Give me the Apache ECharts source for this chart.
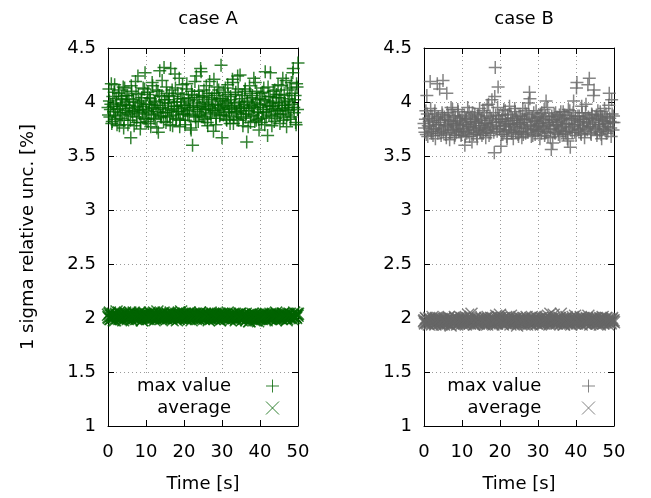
<!DOCTYPE html>
<html>
<head>
<meta charset="utf-8">
<script src="https://cdn.jsdelivr.net/npm/echarts@6/dist/echarts.min.js"></script>
<style>html,body{margin:0;padding:0;background:#fff}#c{width:651px;height:498px}</style>
</head>
<body>
<div id="c"></div>
<script>
const titles = ['case A', 'case B'];
const xTicks = [0, 10, 20, 30, 40, 50];
const yTicks = [1, 1.5, 2, 2.5, 3, 3.5, 4, 4.5];
const legendNames = ['max value', 'average'];
const times = [
0,0.25,0.5,0.75,1,1.25,1.5,1.75,2,2.25,2.5,2.75,3,3.25,3.5,3.75,4,4.25,4.5,4.75,
5,5.25,5.5,5.75,6,6.25,6.5,6.75,7,7.25,7.5,7.75,8,8.25,8.5,8.75,9,9.25,9.5,9.75,
10,10.25,10.5,10.75,11,11.25,11.5,11.75,12,12.25,12.5,12.75,13,13.25,13.5,13.75,14,14.25,14.5,14.75,
15,15.25,15.5,15.75,16,16.25,16.5,16.75,17,17.25,17.5,17.75,18,18.25,18.5,18.75,19,19.25,19.5,19.75,
20,20.25,20.5,20.75,21,21.25,21.5,21.75,22,22.25,22.5,22.75,23,23.25,23.5,23.75,24,24.25,24.5,24.75,
25,25.25,25.5,25.75,26,26.25,26.5,26.75,27,27.25,27.5,27.75,28,28.25,28.5,28.75,29,29.25,29.5,29.75,
30,30.25,30.5,30.75,31,31.25,31.5,31.75,32,32.25,32.5,32.75,33,33.25,33.5,33.75,34,34.25,34.5,34.75,
35,35.25,35.5,35.75,36,36.25,36.5,36.75,37,37.25,37.5,37.75,38,38.25,38.5,38.75,39,39.25,39.5,39.75,
40,40.25,40.5,40.75,41,41.25,41.5,41.75,42,42.25,42.5,42.75,43,43.25,43.5,43.75,44,44.25,44.5,44.75,
45,45.25,45.5,45.75,46,46.25,46.5,46.75,47,47.25,47.5,47.75,48,48.25,48.5,48.75,49,49.25,49.5,49.75,
50];
const times2 = [
0.125,0.375,0.625,0.875,1.125,1.375,1.625,1.875,2.125,2.375,2.625,2.875,3.125,3.375,3.625,3.875,4.125,4.375,4.625,4.875,
5.125,5.375,5.625,5.875,6.125,6.375,6.625,6.875,7.125,7.375,7.625,7.875,8.125,8.375,8.625,8.875,9.125,9.375,9.625,9.875,
10.125,10.375,10.625,10.875,11.125,11.375,11.625,11.875,12.125,12.375,12.625,12.875,13.125,13.375,13.625,13.875,14.125,14.375,14.625,14.875,
15.125,15.375,15.625,15.875,16.125,16.375,16.625,16.875,17.125,17.375,17.625,17.875,18.125,18.375,18.625,18.875,19.125,19.375,19.625,19.875,
20.125,20.375,20.625,20.875,21.125,21.375,21.625,21.875,22.125,22.375,22.625,22.875,23.125,23.375,23.625,23.875,24.125,24.375,24.625,24.875,
25.125,25.375,25.625,25.875,26.125,26.375,26.625,26.875,27.125,27.375,27.625,27.875,28.125,28.375,28.625,28.875,29.125,29.375,29.625,29.875,
30.125,30.375,30.625,30.875,31.125,31.375,31.625,31.875,32.125,32.375,32.625,32.875,33.125,33.375,33.625,33.875,34.125,34.375,34.625,34.875,
35.125,35.375,35.625,35.875,36.125,36.375,36.625,36.875,37.125,37.375,37.625,37.875,38.125,38.375,38.625,38.875,39.125,39.375,39.625,39.875,
40.125,40.375,40.625,40.875,41.125,41.375,41.625,41.875,42.125,42.375,42.625,42.875,43.125,43.375,43.625,43.875,44.125,44.375,44.625,44.875,
45.125,45.375,45.625,45.875,46.125,46.375,46.625,46.875,47.125,47.375,47.625,47.875,48.125,48.375,48.625,48.875,49.125,49.375,49.625,49.875];
const maxA = [
3.95,4.12,3.86,3.98,3.80,4.05,3.91,4.16,3.84,3.99,3.93,4.08,3.78,3.96,4.02,3.88,4.14,3.83,3.97,4.06,
3.90,3.79,4.03,3.94,3.67,4.10,3.87,4.00,3.92,4.19,3.81,3.96,4.07,3.89,3.75,4.01,3.93,4.13,3.85,4.27,
3.98,3.82,4.09,3.91,4.04,3.77,3.95,4.15,3.88,4.00,3.84,4.11,3.93,3.72,4.06,3.97,3.86,4.20,3.90,4.32,
3.99,3.81,4.08,3.94,4.02,3.87,4.31,3.92,3.78,4.05,3.96,4.13,3.85,4.00,3.91,4.22,3.83,3.97,4.07,3.89,
4.03,3.79,3.95,4.17,3.88,4.01,3.93,3.76,4.10,3.60,3.97,4.06,3.86,4.24,3.91,3.82,4.04,3.95,4.28,3.87,
3.99,4.11,3.84,3.93,4.06,3.78,3.96,4.19,3.89,4.02,3.92,3.73,4.08,3.98,3.85,4.14,3.94,4.03,3.88,4.34,
3.67,3.97,4.09,3.90,4.01,3.83,4.16,3.95,3.87,4.05,3.93,4.21,3.80,3.99,4.07,3.91,3.84,4.12,3.96,4.25,
3.89,4.03,3.78,3.94,4.10,3.86,3.63,4.00,3.92,4.15,3.81,3.97,4.06,3.88,3.95,4.18,3.83,4.02,3.90,3.74,
3.98,4.08,3.85,3.93,4.13,3.79,4.01,3.91,3.69,4.05,3.96,4.27,3.87,3.99,4.10,3.82,3.94,4.04,3.89,4.16,
3.92,3.80,4.07,3.97,4.22,3.86,4.00,3.93,3.77,4.11,3.95,4.03,3.84,4.18,3.98,4.31,3.90,4.06,3.79,4.14,
4.36];
const maxA2 = [
3.88,4.01,3.93,4.17,3.82,3.96,4.09,3.87,4.03,3.79,3.94,4.11,3.90,3.85,4.05,3.98,3.76,4.13,3.92,4.00,
4.06,3.89,3.97,3.83,4.15,3.91,4.02,3.78,3.95,4.08,3.86,4.24,3.93,3.99,3.81,4.04,3.90,3.96,4.12,3.84,
3.92,4.07,3.80,3.98,4.03,3.89,4.18,3.94,3.85,4.01,3.97,3.76,4.10,3.91,4.29,3.87,4.05,3.95,3.82,4.02,
3.90,4.14,3.86,3.99,4.06,3.79,3.93,4.11,3.88,4.00,4.26,3.84,3.96,4.08,3.91,3.77,4.03,3.94,4.16,3.89,
3.97,3.83,4.12,3.92,4.04,3.87,3.99,3.74,4.07,3.95,3.89,4.19,3.82,4.02,3.96,4.10,3.88,4.31,3.93,4.05,
3.86,4.00,3.94,4.15,3.81,3.98,4.08,3.90,3.85,4.04,3.97,4.21,3.92,3.79,4.06,3.95,4.11,3.87,4.01,3.93,
4.03,3.88,3.96,4.13,3.84,3.99,4.07,3.91,3.80,4.02,3.94,4.18,3.86,3.97,4.09,3.90,4.24,3.83,4.00,3.95,
3.92,4.06,3.85,3.98,4.12,3.89,4.01,3.77,3.94,4.08,3.87,4.04,3.96,4.22,3.82,3.99,4.10,3.91,3.84,4.03,
3.95,3.81,4.09,3.90,4.02,4.28,3.86,3.97,4.14,3.88,4.05,3.93,3.78,4.00,3.96,4.11,3.85,4.07,3.92,3.99,
4.04,3.89,4.15,3.94,3.83,4.06,3.97,4.20,3.88,4.01,3.92,4.13,3.86,4.08,4.27,3.95,4.02,3.81,4.17,3.93];
const avgA = [
2.03,2.00,2.05,1.99,2.02,2.04,1.98,2.01,2.03,2.06,2.00,2.02,1.99,2.04,2.01,2.03,1.98,2.02,2.05,2.00,
2.02,1.99,2.04,2.01,2.03,1.98,2.02,2.05,2.00,2.03,2.01,1.99,2.04,2.02,2.00,2.03,1.98,2.01,2.04,2.02,
2.00,2.03,2.01,1.99,2.05,2.02,2.00,2.04,2.01,1.98,2.03,2.02,2.06,2.00,2.01,2.03,1.99,2.04,2.02,2.00,
2.03,2.01,1.99,2.04,2.02,2.00,2.05,2.01,1.98,2.03,2.02,2.00,2.04,2.01,1.99,2.03,2.02,2.06,2.00,2.02,
2.01,2.04,1.99,2.02,2.03,2.00,2.05,2.01,1.98,2.03,2.02,2.00,2.04,2.01,2.03,1.99,2.02,2.05,2.00,2.03,
2.02,1.99,2.04,2.01,2.00,2.03,1.98,2.02,2.05,2.00,2.01,2.03,1.99,2.04,2.02,2.00,2.03,2.01,1.98,2.02,
2.04,2.00,2.02,2.03,1.99,2.01,2.05,2.00,2.02,1.98,2.03,2.01,2.04,2.00,2.02,1.99,2.03,2.01,2.00,2.04,
2.01,1.98,2.03,2.00,2.02,2.04,1.99,2.01,2.03,1.97,2.02,2.00,2.04,2.01,1.98,2.03,2.02,2.00,1.97,2.02,
2.00,2.03,1.99,2.01,2.04,2.00,2.02,1.98,2.03,2.01,2.00,2.04,1.99,2.02,2.03,2.00,2.01,2.05,1.99,2.02,
2.03,2.00,2.02,1.99,2.04,2.01,2.03,2.00,1.98,2.02,2.04,2.01,2.00,2.03,1.99,2.02,2.05,2.01,2.00,2.03,
2.04];
const avgA2 = [
2.01,2.04,1.99,2.02,2.00,2.03,2.01,1.98,2.04,2.02,2.00,2.05,2.01,1.99,2.03,2.02,2.00,2.04,2.01,2.03,
2.00,2.03,2.01,2.05,1.99,2.02,2.00,2.04,2.01,1.99,2.03,2.00,2.02,2.05,2.01,1.98,2.03,2.02,2.00,2.04,
2.02,1.99,2.03,2.01,2.00,2.04,2.02,2.00,2.05,2.01,1.99,2.03,2.00,2.02,2.04,2.01,2.03,2.00,2.05,2.01,
2.00,2.02,2.04,2.00,2.01,2.03,1.99,2.02,2.04,2.00,2.03,2.01,1.98,2.02,2.05,2.01,2.00,2.03,2.01,2.04,
2.03,2.00,2.02,2.04,2.01,1.99,2.03,2.02,2.00,2.04,2.01,2.03,1.99,2.02,2.00,2.04,2.01,2.02,2.03,2.00,
2.01,2.03,2.00,2.02,2.04,2.01,2.00,2.03,1.99,2.02,2.04,2.00,2.01,2.03,2.00,2.02,1.99,2.04,2.01,2.03,
2.02,2.00,2.04,2.01,2.03,2.00,2.02,1.99,2.04,2.01,2.02,2.00,2.03,2.01,1.98,2.03,2.02,2.00,2.04,2.01,
2.00,2.02,1.99,2.03,2.01,1.98,2.02,2.00,1.97,2.03,2.01,1.99,2.02,2.00,2.03,1.98,2.01,2.02,1.99,2.00,
2.02,2.00,2.03,2.01,1.99,2.02,2.04,2.00,2.01,2.03,1.99,2.02,2.00,2.04,2.01,2.02,1.98,2.03,2.01,2.00,
2.01,2.03,2.00,2.02,2.04,2.00,2.01,2.03,1.99,2.02,2.00,2.04,2.01,2.02,2.03,2.00,2.02,2.01,2.04,2.02];
const maxB = [
3.80,3.72,3.92,4.06,3.68,3.85,3.77,3.94,3.71,3.83,3.75,3.89,3.66,3.79,4.17,3.86,3.73,3.81,3.69,3.90,
4.20,3.76,3.84,3.70,4.08,3.78,3.88,3.65,3.82,3.74,3.93,3.79,3.67,3.86,3.72,3.80,3.91,3.75,3.83,3.69,
3.87,3.73,3.79,3.60,3.85,3.71,3.95,3.77,3.68,3.82,3.76,3.90,3.70,3.84,3.74,3.81,3.66,3.88,3.78,3.72,
3.83,3.69,3.92,3.76,3.80,3.67,3.86,3.74,3.98,3.79,3.71,3.85,3.77,3.90,3.53,4.32,3.81,3.73,4.14,3.87,
3.75,3.59,3.84,3.70,3.93,3.78,3.82,3.68,3.88,3.74,3.96,3.80,3.72,3.85,3.66,3.79,3.91,3.76,3.83,3.70,
3.87,3.73,3.81,3.67,3.94,3.77,3.84,3.71,3.89,3.75,3.99,4.09,3.79,3.68,3.86,3.74,3.82,3.70,3.92,3.78,
3.73,3.85,3.66,3.80,3.90,3.76,3.83,3.69,3.87,3.72,3.95,3.78,3.81,3.67,3.56,3.84,3.75,3.89,3.71,3.79,
3.86,3.74,3.82,3.68,3.91,3.77,3.84,3.70,3.88,3.73,3.80,3.66,3.93,3.76,3.58,3.85,3.72,3.90,3.79,3.83,
3.69,4.18,3.87,3.75,3.82,3.71,3.96,3.78,3.84,3.67,3.90,3.80,3.74,3.86,4.22,3.77,3.70,3.88,3.81,4.11,
3.76,3.85,3.69,3.92,3.79,3.73,3.87,3.66,3.83,3.75,3.94,3.80,3.71,3.86,3.77,4.08,3.82,3.68,3.89,3.74,
3.81];
const maxB2 = [
3.76,3.84,3.70,3.89,3.78,3.82,4.19,3.73,3.87,3.69,3.81,3.92,3.75,3.85,3.71,3.79,4.12,3.83,3.74,3.88,
3.72,3.86,3.79,3.67,3.90,3.77,3.83,3.71,3.95,3.80,3.74,3.87,3.69,3.82,3.76,3.93,3.73,3.85,3.78,3.70,
3.81,3.75,3.88,3.68,3.84,3.79,3.72,3.91,3.77,3.86,3.63,3.80,3.74,3.89,3.82,3.70,3.87,3.76,3.94,3.73,
3.85,3.78,3.71,3.90,3.80,3.74,3.97,3.83,3.69,3.87,3.76,4.02,3.81,3.72,4.05,3.88,3.78,3.95,3.84,3.75,
3.82,3.70,3.88,3.77,3.73,3.92,3.80,3.66,3.85,3.79,3.74,3.89,3.71,3.83,3.77,3.94,3.72,3.86,3.80,3.68,
3.79,3.87,3.73,3.84,3.70,3.81,3.92,3.76,3.85,3.72,3.88,4.03,3.78,3.83,3.69,3.90,3.75,3.82,3.77,3.86,
3.74,3.80,3.89,3.71,3.84,3.77,3.93,3.73,4.01,3.81,3.68,3.86,3.79,3.75,3.87,3.62,3.83,3.72,3.90,3.78,
3.81,3.70,3.88,3.76,3.83,3.73,3.91,3.79,3.85,3.71,3.87,3.64,3.80,3.92,3.74,3.84,3.77,4.01,3.72,3.86,
4.13,3.79,3.74,3.87,3.81,3.70,3.90,3.76,3.84,3.73,3.98,3.82,4.16,3.77,3.85,3.71,3.89,3.79,4.06,3.83,
3.75,3.88,3.72,3.84,3.79,3.91,3.70,3.86,3.77,3.82,3.74,3.89,3.80,3.73,3.97,3.85,3.76,4.02,3.81,3.87];
const avgB = [
1.97,1.95,2.00,1.96,1.98,1.94,1.99,1.97,1.95,2.01,1.96,1.98,1.94,1.99,1.97,2.00,1.95,1.98,1.96,1.99,
1.97,1.94,2.00,1.96,1.98,1.95,2.01,1.97,1.93,1.99,1.96,1.98,1.95,2.00,1.97,1.94,1.99,1.96,2.01,1.98,
1.95,1.97,2.00,1.96,1.94,1.99,1.97,1.98,1.95,2.01,2.04,1.96,1.98,1.94,2.00,1.97,1.95,1.99,1.96,1.98,
1.97,2.00,1.95,1.98,1.94,1.99,1.96,2.01,1.97,1.95,1.98,2.00,1.96,1.94,1.99,1.97,2.02,1.95,1.98,2.00,
2.03,1.96,1.98,1.94,2.00,1.97,1.95,1.99,1.96,2.01,1.97,1.94,1.98,2.00,1.95,1.97,1.99,1.96,1.93,1.98,
1.97,2.00,1.95,1.98,1.96,1.99,1.94,1.97,2.01,1.96,1.98,1.95,2.00,1.97,1.94,1.99,1.96,1.98,2.01,1.95,
1.97,1.99,1.96,1.94,2.00,1.97,1.95,1.98,2.01,1.96,1.99,1.97,1.94,2.04,1.98,1.95,2.00,1.96,1.98,1.97,
1.95,1.99,1.97,2.00,2.04,1.96,1.98,1.94,1.99,1.97,2.01,1.95,1.98,1.96,2.00,1.94,1.97,1.99,1.96,2.02,
1.97,1.95,1.99,1.96,1.98,2.01,1.94,1.97,2.00,1.96,1.98,1.95,1.99,2.02,1.97,1.94,1.98,2.00,1.96,1.99,
1.97,1.95,2.00,1.96,1.98,1.94,1.99,1.97,2.01,1.95,1.98,1.96,2.00,1.97,1.94,1.99,1.96,1.98,2.00,1.97,
1.96];
const avgB2 = [
1.98,1.96,1.99,1.95,1.97,2.00,1.96,1.98,1.94,1.99,1.97,1.95,2.00,1.96,1.98,1.95,1.99,1.97,1.94,1.98,
1.96,1.99,1.97,1.95,1.98,2.00,1.96,1.94,1.99,1.97,1.95,1.98,2.01,1.96,1.99,1.97,1.95,1.98,1.96,2.00,
1.97,1.99,1.95,1.98,1.96,2.00,2.03,1.97,1.95,1.99,1.96,1.98,1.94,2.00,1.97,1.96,1.99,1.95,1.98,1.97,
1.99,1.96,1.98,1.95,2.00,1.97,1.94,1.99,1.96,1.98,2.00,1.95,1.97,1.99,1.96,1.98,1.95,2.01,1.97,1.99,
2.00,1.97,1.95,1.99,1.96,1.98,2.01,1.95,1.97,1.99,1.96,2.02,1.98,1.95,1.99,1.97,1.96,2.00,1.98,1.95,
1.98,1.96,1.99,1.97,1.95,2.00,1.97,1.98,1.94,1.99,1.96,1.98,1.95,2.01,1.97,1.99,1.96,1.98,1.95,1.99,
1.96,1.98,2.00,1.97,1.95,1.99,1.97,2.00,1.96,1.98,2.02,1.97,1.95,1.99,1.97,1.96,2.03,1.98,1.95,1.99,
1.97,1.96,2.00,1.98,1.95,1.99,1.97,1.94,1.98,1.96,2.00,1.97,1.99,1.95,1.98,1.96,2.01,1.97,1.95,1.99,
1.98,1.96,1.99,1.97,1.95,2.00,1.97,1.99,1.96,1.98,1.95,2.00,1.97,1.96,1.99,1.98,1.95,1.97,2.00,1.96,
1.99,1.97,1.95,1.98,1.96,2.00,1.97,1.99,1.95,1.98,1.96,2.00,1.97,1.99,1.96,1.98,1.95,1.99,1.97,1.98];

const colors = ['#006400', '#666666'];
const FONT = 'DejaVu Sans';
const PLUS = 'path://M0,6.5L13,6.5M6.5,0L6.5,13';
const CROSS = 'path://M0,0L13,13M13,0L0,13';
const panels = [
  {left: 108, maxv: maxA, maxv2: maxA2, avgv: avgA, avgv2: avgA2},
  {left: 424, maxv: maxB, maxv2: maxB2, avgv: avgB, avgv2: avgB2}
];
const GW = 190, GT = 48, GH = 378;

const pairs = (ts, vals) => vals.map((v, i) => [ts[i], v]);

const grid = [], xAxis = [], yAxis = [], series = [], legend = [], title = [], graphic = [];
panels.forEach((p, k) => {
  grid.push({left: p.left, top: GT, width: GW, height: GH, containLabel: false});
  const lineStyle = {color: '#000', width: 1};
  const tick = {show: true, inside: true, length: 6, lineStyle: {color: '#000'}};
  const split = {show: true, lineStyle: {color: '#9a9a9a', type: [1, 3], width: 1}};
  xAxis.push({gridIndex: k, type: 'value', min: xTicks[0], max: xTicks[xTicks.length - 1], interval: xTicks[1] - xTicks[0],
    axisLine: {show: true, onZero: false, lineStyle}, axisTick: tick, splitLine: split,
    axisLabel: {color: '#000', fontFamily: FONT, fontSize: 18, margin: 17},
    name: 'Time [s]', nameLocation: 'middle', nameGap: 49,
    nameTextStyle: {color: '#000', fontFamily: FONT, fontSize: 18}});
  xAxis.push({gridIndex: k, type: 'value', position: 'top', min: xTicks[0], max: xTicks[xTicks.length - 1], interval: xTicks[1] - xTicks[0],
    axisLine: {show: true, onZero: false, lineStyle}, axisTick: tick, splitLine: {show: false}, axisLabel: {show: false}});
  const yMain = {gridIndex: k, type: 'value', min: yTicks[0], max: yTicks[yTicks.length - 1], interval: yTicks[1] - yTicks[0],
    axisLine: {show: true, onZero: false, lineStyle}, axisTick: tick, splitLine: split,
    axisLabel: {color: '#000', fontFamily: FONT, fontSize: 18, margin: 12}};
  if (k === 0) {
    Object.assign(yMain, {name: '1 sigma relative unc. [%]', nameLocation: 'middle', nameGap: 71,
      nameTextStyle: {color: '#000', fontFamily: FONT, fontSize: 18}});
  }
  yAxis.push(yMain);
  yAxis.push({gridIndex: k, type: 'value', position: 'right', min: yTicks[0], max: yTicks[yTicks.length - 1], interval: yTicks[1] - yTicks[0],
    axisLine: {show: true, onZero: false, lineStyle}, axisTick: tick, splitLine: {show: false}, axisLabel: {show: false}});

  const c = colors[k];
  const nMax = legendNames[0] + (k ? ' ' : '');
  const nAvg = legendNames[1] + (k ? ' ' : '');
  const st = {color: 'transparent', borderColor: c, borderWidth: 1.5};
  series.push({type: 'scatter', name: nMax, xAxisIndex: 2 * k, yAxisIndex: 2 * k,
    data: pairs(times, p.maxv).concat(pairs(times2, p.maxv2)),
    symbol: PLUS, symbolSize: 13, itemStyle: st, z: 3, silent: true});
  series.push({type: 'scatter', name: nAvg, xAxisIndex: 2 * k, yAxisIndex: 2 * k,
    data: pairs(times, p.avgv).concat(pairs(times2, p.avgv2)),
    symbol: CROSS, symbolSize: 12, itemStyle: st, z: 3, silent: true});

  title.push({text: titles[k], left: p.left + GW / 2, top: 5, textAlign: 'center',
    textStyle: {color: '#000', fontFamily: FONT, fontSize: 18, fontWeight: 'normal'}});

  const iconCx = p.left + 164;
  [[nMax, PLUS, 377], [nAvg, CROSS, 399]].forEach(([n, ic, top]) => {
    legend.push({data: [n], orient: 'vertical', align: 'right', right: 651 - (iconCx + 36.5) + 29, top, padding: 0,
      icon: ic, itemWidth: 73, itemHeight: 13, symbolKeepAspect: true, selectedMode: false,
      itemStyle: {color: 'transparent', borderColor: c, borderWidth: 1},
      textStyle: {color: '#000', fontFamily: FONT, fontSize: 18}});
  });
  graphic.push({type: 'rect', left: p.left + 2, top: 374, shape: {width: GW - 4, height: 45},
    style: {fill: '#fff'}, z: 1, silent: true});
});

const chart = echarts.init(document.getElementById('c'), null, {renderer: 'canvas'});
chart.setOption({animation: false, backgroundColor: '#fff', title, grid, xAxis, yAxis, series, legend, graphic});
</script>
</body>
</html>
